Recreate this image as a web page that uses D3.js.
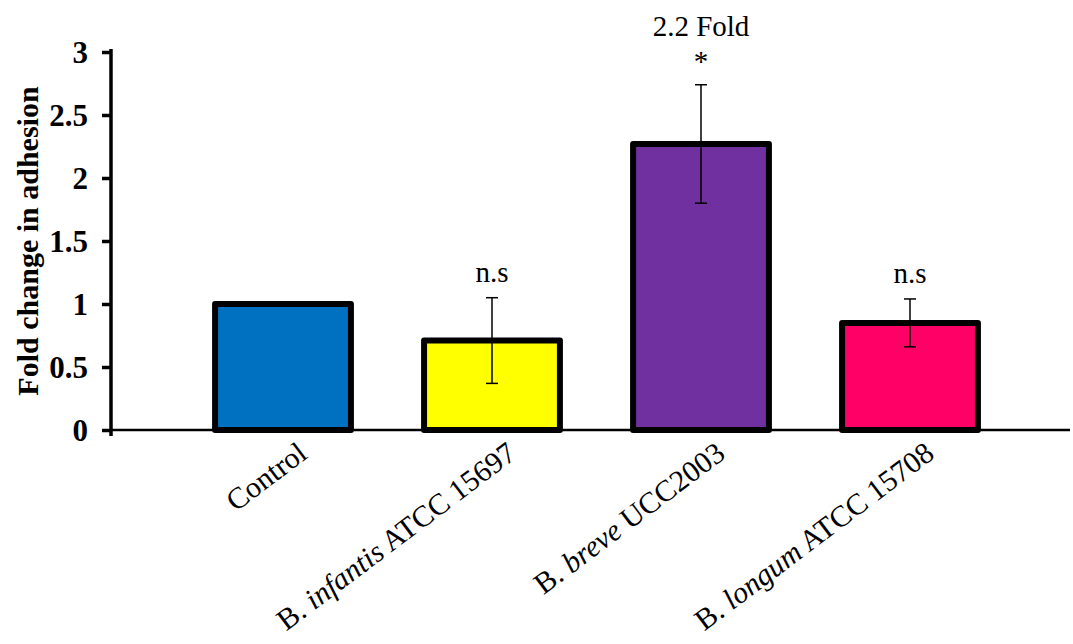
<!DOCTYPE html>
<html>
<head>
<meta charset="utf-8">
<script src="https://cdn.jsdelivr.net/npm/d3@7"></script>
<style>
  body { margin: 0; background: #fff; }
  text { font-family: "Liberation Serif", "Times New Roman", serif; }
</style>
</head>
<body>
<script>
// Fold change in adhesion bar chart

const categories = ["Control", "B. infantis ATCC 15697", "B. breve UCC2003", "B. longum ATCC 15708"];
const italicWords = ["", "infantis", "breve", "longum"];   // species part set in italics
const means = [1.0, 0.71, 2.27, 0.85];
const errors = [0, 0.34, 0.47, 0.19];
const barColors = ["#0070C0", "#FFFF00", "#7030A0", "#FF0066"];
const annotations = [[], ["n.s"], ["*", "2.2 Fold"], ["n.s"]];  // stacked upward above error bar
const yTicks = [0, 0.5, 1, 1.5, 2, 2.5, 3];

const width = 1073, height = 644;
const margin = {top: 52, left: 111, bottom: 214};

const svg = d3.select("body").append("svg")
    .attr("width", width)
    .attr("height", height);

const y = d3.scaleLinear()
    .domain([0, 3])
    .range([height - margin.bottom, margin.top]);

const x = d3.scaleBand()
    .domain(categories)
    .range([178.5, 1014.5])
    .paddingInner(0.35)
    .paddingOuter(0.175);

// x baseline
svg.append("line")
    .attr("x1", margin.left).attr("x2", 1070)
    .attr("y1", y(0)).attr("y2", y(0))
    .attr("stroke", "#000").attr("stroke-width", 2.5);

// bars
svg.selectAll("rect.bar")
    .data(categories)
    .enter().append("rect")
    .attr("class", "bar")
    .attr("x", d => x(d))
    .attr("width", x.bandwidth())
    .attr("y", (d, i) => y(means[i]))
    .attr("height", (d, i) => y(0) - y(means[i]))
    .attr("fill", (d, i) => barColors[i])
    .attr("stroke", "#000")
    .attr("stroke-width", 6)
    .attr("stroke-linejoin", "round");

// error bars
const eb = svg.selectAll("g.err")
    .data(categories.filter((d, i) => errors[i] > 0))
    .enter().append("g")
    .attr("class", "err")
    .attr("stroke", "#000")
    .attr("stroke-width", 1.5);

eb.each(function(d) {
  const i = categories.indexOf(d);
  const cx = x(d) + x.bandwidth() / 2;
  const g = d3.select(this);
  const hi = y(means[i] + errors[i]), lo = y(means[i] - errors[i]);
  g.append("line").attr("x1", cx).attr("x2", cx).attr("y1", hi).attr("y2", lo);
  g.append("line").attr("x1", cx - 6).attr("x2", cx + 6).attr("y1", hi).attr("y2", hi);
  g.append("line").attr("x1", cx - 6).attr("x2", cx + 6).attr("y1", lo).attr("y2", lo);
});

// annotations above error bars
categories.forEach((d, i) => {
  const cx = x(d) + x.bandwidth() / 2;
  const top = y(means[i] + errors[i]);
  annotations[i].forEach((t, k) => {
    svg.append("text")
      .attr("x", cx)
      .attr("y", top - (t === "*" ? 14 : 16) - k * 33)
      .attr("text-anchor", "middle")
      .attr("font-size", 29)
      .text(t);
  });
});

// y axis
const yAxis = svg.append("g")
    .attr("transform", `translate(${margin.left},0)`)
    .call(d3.axisLeft(y).tickValues(yTicks).tickFormat(d3.format("")).tickSize(9).tickSizeOuter(0).tickPadding(14));
yAxis.select(".domain").remove();
yAxis.selectAll(".tick line").attr("stroke", "#000").attr("stroke-width", 3.5);
yAxis.selectAll(".tick text")
    .attr("font-family", "Liberation Serif")
    .attr("font-size", 31)
    .attr("font-weight", "bold")
    .attr("fill", "#000")
    .attr("dy", "0.34em");
svg.append("line")
    .attr("x1", margin.left).attr("x2", margin.left)
    .attr("y1", y(3) - 3).attr("y2", y(0) + 6)
    .attr("stroke", "#000").attr("stroke-width", 3.5);

// y title
svg.append("text")
    .attr("transform", `translate(38,${(y(0) + y(3)) / 2}) rotate(-90)`)
    .attr("text-anchor", "middle")
    .attr("font-size", 30)
    .attr("font-weight", "bold")
    .text("Fold change in adhesion");

// category labels
categories.forEach((d, i) => {
  const cx = x(d) + x.bandwidth() / 2;
  const t = svg.append("text")
    .attr("transform", `translate(${cx + 26},${y(0) + 27}) rotate(-37)`)
    .attr("text-anchor", "end")
    .attr("font-size", 30);
  const w = italicWords[i];
  if (w) {
    const [pre, post] = d.split(w);
    t.append("tspan").text(pre);
    t.append("tspan").attr("font-style", "italic").text(w);
    t.append("tspan").text(post);
  } else {
    t.text(d);
  }
});
</script>
</body>
</html>
